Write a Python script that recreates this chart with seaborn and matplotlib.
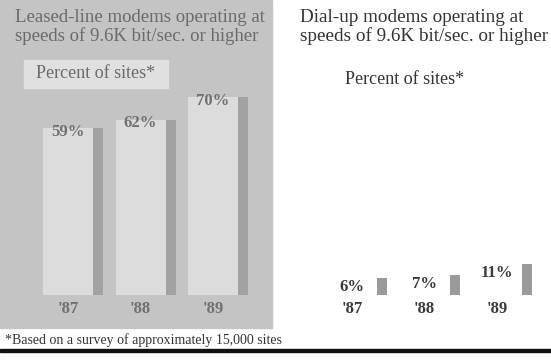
import matplotlib
matplotlib.use("Agg")
import matplotlib.pyplot as plt
from matplotlib.patches import Rectangle
import seaborn as sns
import numpy as np
import pandas as pd

# data
years = ["'87", "'88", "'89"]
leased_pct = [59, 62, 70]
dialup_pct = [6, 7, 11]

W, H = 551, 360
sns.set_theme(style="white")
plt.rcParams['font.family'] = ['Liberation Serif', 'DejaVu Serif']

fig = plt.figure(figsize=(W / 100, H / 100), dpi=100)
fig.patch.set_facecolor("white")


def fx(px):
    return px / W


def fy(py):
    # py measured from top of the image
    return 1 - py / H


# gray background of the left panel
fig.patches.append(Rectangle((0, fy(328)), fx(272), 328 / H, transform=fig.transFigure,
                             color="#c4c4c4", zorder=-2))
# lighter box behind "Percent of sites*"
fig.patches.append(Rectangle((fx(24), fy(88)), fx(144), 28 / H, transform=fig.transFigure,
                             color="#e0e0e0", zorder=-1))

px_per_pct = 2.83
ax_h = 230
ymax = ax_h / px_per_pct
spacing = 72.5  # pixels between bar groups


def panel(rect_px, first_center, values, light, shadow, txt_color, lab_dy):
    left, width = rect_px
    ax = fig.add_axes([fx(left), 65 / H, fx(width), ax_h / H])
    ax.set_facecolor("none")
    ax.set_zorder(1)
    df = pd.DataFrame({"year": years, "pct": values})
    sns.barplot(data=df, x="year", y="pct", ax=ax, color=light, width=50 / spacing,
                saturation=1, edgecolor="none", linewidth=0)
    # shadow strip on the right of every bar
    ax.bar(np.arange(len(values)) + 30 / spacing, values, width=10 / spacing,
           color=shadow, linewidth=0)
    for i, v in enumerate(values):
        ax.text(i, v + lab_dy, f"{v}%", ha="center", va="top", fontsize=12,
                fontweight="bold", color=txt_color)
    ax.set_xlim((left - first_center) / spacing, (left + width - first_center) / spacing)
    ax.set_ylim(0, ymax)
    ax.set_xlabel("")
    ax.set_ylabel("")
    ax.set_yticks([])
    ax.tick_params(axis="x", length=0, pad=4, labelsize=12, labelcolor=txt_color)
    for lab in ax.get_xticklabels():
        lab.set_fontweight("bold")
    sns.despine(ax=ax, left=True, bottom=True)
    return ax


panel((0, 272), 68, leased_pct, "#dcdcdc", "#a2a2a2", "#707070", 1.5)
panel((280, 271), 352, dialup_pct, "white", "#9a9a9a", "#3a3a3a", -0.3)

# titles
fig.text(fx(15), fy(27), "Leased-line modems operating at\nspeeds of 9.6K bit/sec. or higher",
         ha="left", va="center", fontsize=13.5, color="#6a6a6a", linespacing=1.1)
fig.text(fx(300), fy(27), "Dial-up modems operating at\nspeeds of 9.6K bit/sec. or higher",
         ha="left", va="center", fontsize=13.8, color="#333333", linespacing=1.1)
fig.text(fx(96), fy(74), "Percent of sites*", ha="center", va="center",
         fontsize=13, color="#6a6a6a")
fig.text(fx(405), fy(80), "Percent of sites*", ha="center", va="center",
         fontsize=13, color="#333333")

# footnote and rule
fig.text(fx(5), fy(340), "*Based on a survey of approximately 15,000 sites",
         ha="left", va="center", fontsize=10, color="#333333")
fig.patches.append(Rectangle((0, fy(352)), 1, 3 / H, transform=fig.transFigure,
                             color="#111111", zorder=3))

fig.savefig("out.png", dpi=100)
